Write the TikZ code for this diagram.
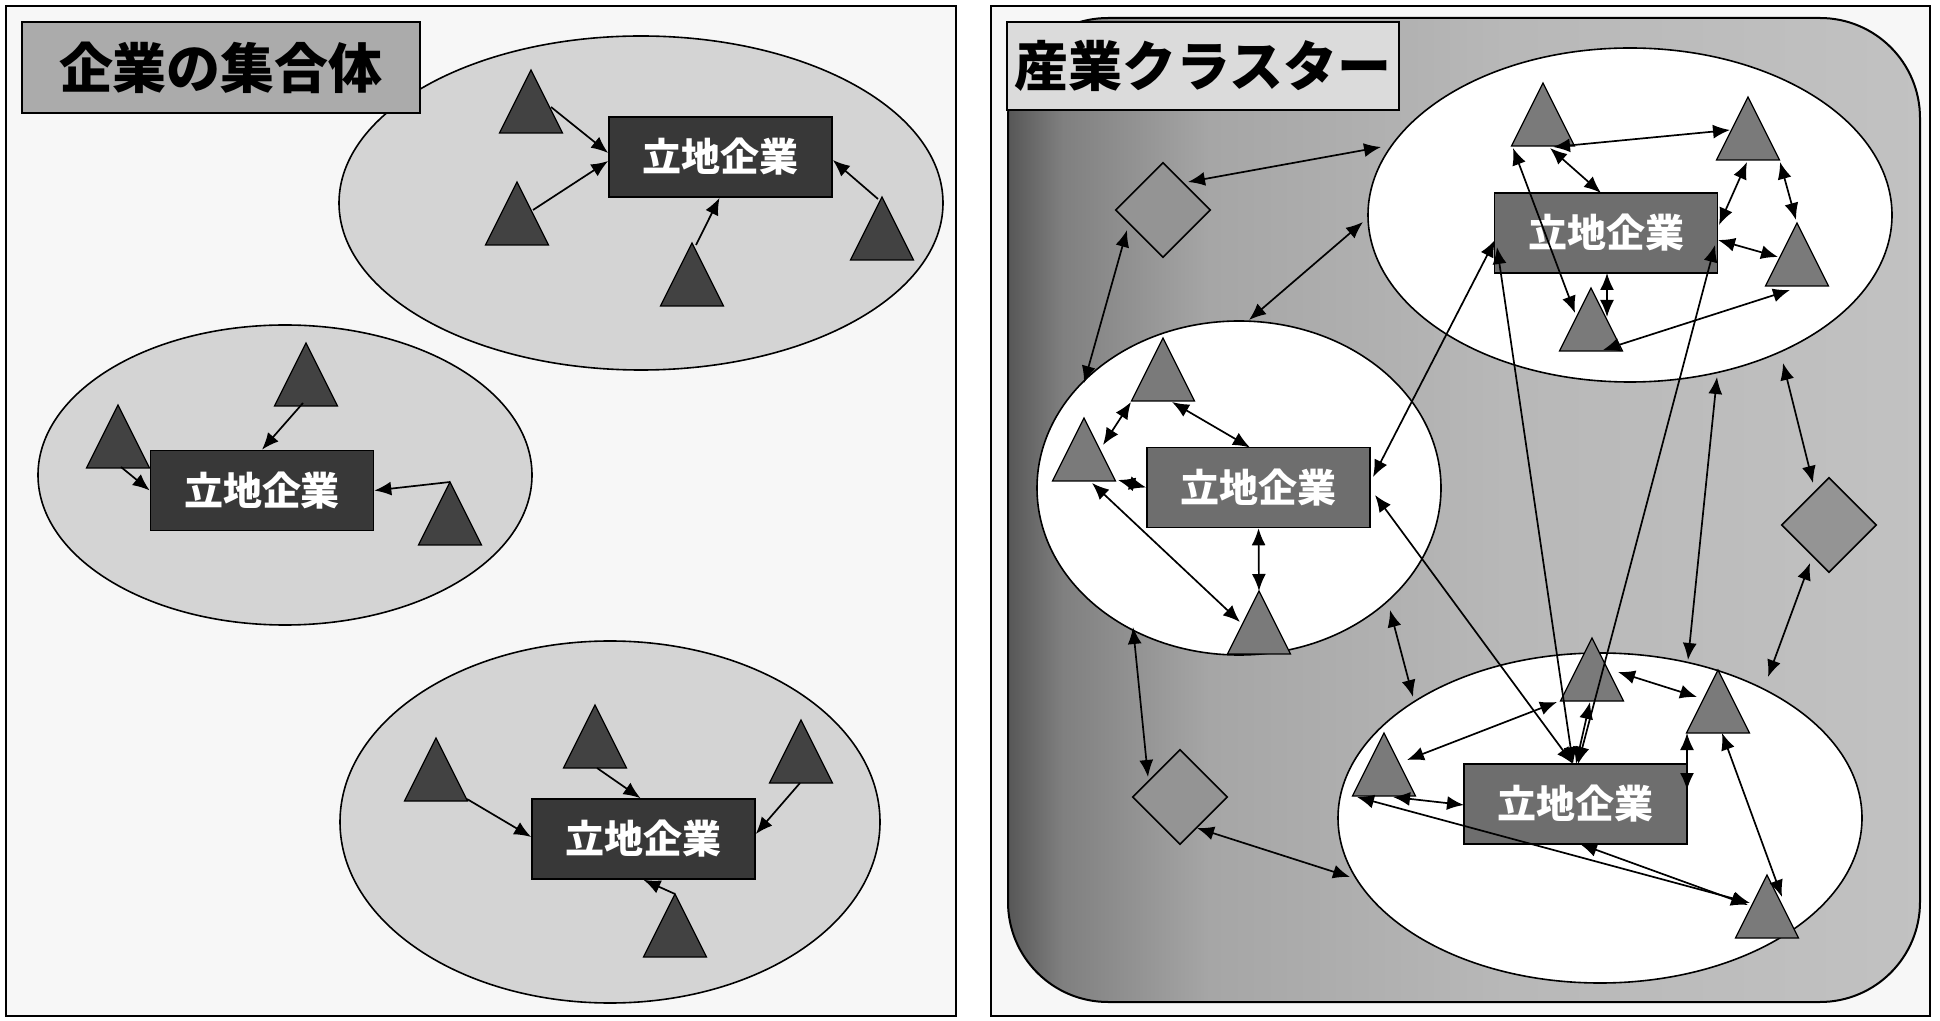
\documentclass[tikz,border=0pt]{standalone}
\usepackage{fontspec}
\newfontfamily\cjk{Noto Sans CJK JP}
\usetikzlibrary{shapes.geometric,arrows.meta}
\pgfdeclarehorizontalshading{clust}{100bp}{color(0bp)=(black!66); color(25bp)=(black!66); color(28bp)=(black!50); color(36bp)=(black!35); color(52bp)=(black!28); color(75bp)=(black!24); color(100bp)=(black!24)}
\begin{document}
\begin{tikzpicture}[x=0.5pt,y=-0.5pt,
  tri/.style={isosceles triangle, isosceles triangle stretches, shape border rotate=90,
    minimum width=31.5pt, minimum height=31.5pt, inner sep=0pt, outer sep=0pt,
    draw=black, line width=0.6pt, anchor=apex},
  ltri/.style={tri, fill=black!74},
  rtri/.style={tri, fill=black!52},
  boxbase/.style={rectangle, draw=black, line width=0.8pt, minimum width=111.5pt, minimum height=40pt,
    inner sep=0pt, text=white, font=\cjk\bfseries\fontsize{19.5pt}{22pt}\selectfont},
  lbox/.style={boxbase, fill=black!78},
  rbox/.style={boxbase, fill=black!57},
  dia/.style={diamond, minimum width=47.5pt, minimum height=47.5pt, inner sep=0pt,
    draw=black, line width=0.8pt, fill=black!42},
  lell/.style={ellipse, draw=black, line width=0.8pt, fill=black!17, inner sep=0pt},
  rell/.style={ellipse, draw=black, line width=0.8pt, fill=white, inner sep=0pt},
  titlebox/.style={rectangle, draw=black, line width=1.3pt, inner sep=0pt,
    font=\cjk\bfseries\fontsize{27pt}{30pt}\selectfont},
  arr/.style={line width=0.85pt, -{Latex[length=8.5pt,width=7pt]}},
  barr/.style={line width=0.85pt, {Latex[length=8.5pt,width=7pt]}-{Latex[length=8.5pt,width=7pt]}}]
\useasboundingbox (0,0) rectangle (1940,1021);
\fill[white] (0,0) rectangle (1940,1021);

% ---------------- left panel ----------------
\draw[line width=1pt, fill=black!3] (6,6) rectangle (956,1016);
\node[lell, minimum width=302pt, minimum height=167pt] (le1) at (641,203) {};
\node[lell, minimum width=247pt, minimum height=150pt] (le2) at (285,475) {};
\node[lell, minimum width=270pt, minimum height=181pt] (le3) at (610,822) {};
\node[titlebox, fill=black!33, minimum width=199pt, minimum height=45.5pt] (lt) at (221,67.5) {企業の集合体};

\node[lbox] (lb1) at (720.5,157) {立地企業};
\node[lbox] (lb2) at (262,490.5) {立地企業};
\node[lbox] (lb3) at (643.5,839) {立地企業};

\node[ltri] (t1) at (531,70) {};
\node[ltri] (t2) at (517,182) {};
\node[ltri] (t3) at (692,243) {};
\node[ltri] (t4) at (882,197) {};
\node[ltri] (t5) at (306,343) {};
\node[ltri] (t6) at (118,405) {};
\node[ltri] (t7) at (450,482) {};
\node[ltri] (t8) at (436,738) {};
\node[ltri] (t9) at (595,705) {};
\node[ltri] (t10) at (801,720) {};
\node[ltri] (t11) at (675,894) {};

\draw[arr] ([shift={(20,37)}]t1.apex) -- ([shift={(0,-4)}]lb1.west);
\draw[arr] ([shift={(16,28)}]t2.apex) -- ([shift={(0,4)}]lb1.west);
\draw[arr] ([shift={(4,2)}]t3.apex) -- ([shift={(-1,0)}]lb1.south);
\draw[arr] ([shift={(-4,2)}]t4.apex) -- ([shift={(0,3)}]lb1.east);
\draw[arr] ([shift={(-3,60)}]t5.apex) -- (lb2.north);
\draw[arr] ([shift={(3,62)}]t6.apex) -- (lb2.west);
\draw[arr] (t7.apex) -- (lb2.east);
\draw[arr] ([shift={(31,61)}]t8.apex) -- ([shift={(0,-2)}]lb3.west);
\draw[arr] ([shift={(2,63)}]t9.apex) -- ([shift={(-3,0)}]lb3.north);
\draw[arr] ([shift={(-1,63)}]t10.apex) -- ([shift={(0,-5)}]lb3.east);
\draw[arr] (t11.apex) -- (lb3.south);

% ---------------- right panel ----------------
\draw[line width=1pt, fill=black!3] (991,6) rectangle (1930,1016);
\shadedraw[shading=clust, line width=1pt, rounded corners=50pt] (1008,18) rectangle (1920,1002);
\node[rell, minimum width=262pt, minimum height=167pt] (e1) at (1630,215) {};
\node[rell, minimum width=202pt, minimum height=167pt] (e2) at (1239,488) {};
\node[rell, minimum width=262pt, minimum height=165pt] (e3) at (1600,818) {};
\node[titlebox, fill=black!14, minimum width=196pt, minimum height=44pt] (rt) at (1203,66) {産業クラスター};

\node[dia] (d1) at (1163,210) {};
\node[dia] (d2) at (1829,525) {};
\node[dia] (d3) at (1180,797) {};

\node[rbox] (rb1) at (1606,233) {立地企業};
\node[rbox] (rb2) at (1258.5,487.5) {立地企業};
\node[rbox] (rb3) at (1575.5,804) {立地企業};

\node[rtri] (rt1) at (1543,83) {};
\node[rtri] (rt2) at (1748,97) {};
\node[rtri] (rt3) at (1797,223) {};
\node[rtri] (rt4) at (1591,288) {};
\node[rtri] (rt5) at (1163,338) {};
\node[rtri] (rt6) at (1084,418) {};
\node[rtri] (rt8) at (1259,591) {};
\node[rtri] (rt9) at (1592,638) {};
\node[rtri] (rt10) at (1718,670) {};
\node[rtri] (rt11) at (1384,733) {};
\node[rtri] (rt12) at (1767,875) {};

\draw[barr] ([shift={(25,-28)}]d1.center) -- ([shift={(-249,-68)}]e1.center);
\draw[barr] ([shift={(-267,7)}]e1.center) -- ([shift={(10,-168)}]e2.center);
\draw[barr] ([shift={(-36,20)}]d1.center) -- ([shift={(-155,-105)}]e2.center);
\draw[barr] ([shift={(10,64)}]rt1.apex) -- ([shift={(-18,33)}]rt2.apex);
\draw[barr] ([shift={(7,65)}]rt1.apex) -- ([shift={(-5,-40)}]rb1.center);
\draw[barr] ([shift={(-1,65)}]rt2.apex) -- ([shift={(113,-8)}]rb1.center);
\draw[barr] ([shift={(32,65)}]rt2.apex) -- ([shift={(-1,-3)}]rt3.apex);
\draw[barr] ([shift={(112,7)}]rb1.center) -- ([shift={(-19,34)}]rt3.apex);
\draw[barr] ([shift={(1,40)}]rb1.center) -- ([shift={(16,29)}]rt4.apex);
\draw[barr] ([shift={(12,62)}]rt4.apex) -- ([shift={(-7,67)}]rt3.apex);
\draw[barr] ([shift={(-30,65)}]rt1.apex) -- ([shift={(-16,25)}]rt4.apex);
\draw[barr] ([shift={(-111,7)}]rb1.center) -- ([shift={(114.5,-10.5)}]rb2.center);
\draw[barr] ([shift={(-109,14)}]rb1.center) -- ([shift={(-2.5,-40)}]rb3.center);
\draw[barr] ([shift={(116.5,7.5)}]rb2.center) -- ([shift={(-2.5,-40)}]rb3.center);
\draw[barr] ([shift={(109,12)}]rb1.center) -- ([shift={(2.5,-40)}]rb3.center);
\draw[barr] ([shift={(87,162)}]e1.center) -- ([shift={(88,-158)}]e3.center);
\draw[barr] ([shift={(153,148)}]e1.center) -- ([shift={(-16,-42)}]d2.center);
\draw[barr] ([shift={(-19,38)}]d2.center) -- ([shift={(168,-141)}]e3.center);
\draw[barr] ([shift={(151,122)}]e2.center) -- ([shift={(-187,-121)}]e3.center);
\draw[barr] ([shift={(-106,139)}]e2.center) -- ([shift={(-32,-20)}]d3.center);
\draw[barr] ([shift={(17,31)}]d3.center) -- ([shift={(-250,59)}]e3.center);
\draw[barr] (rb2.south) -- (rt8.apex);
\draw[barr] ([shift={(8,65)}]rt6.apex) -- ([shift={(-19,31)}]rt8.apex);
\draw[barr] ([shift={(9,64)}]rt5.apex) -- ([shift={(-8.5,-40)}]rb2.center);
\draw[barr] ([shift={(-32,64)}]rt5.apex) -- ([shift={(19,27)}]rt6.apex);
\draw[barr] ([shift={(34,62)}]rt6.apex) -- (rb2.west);
\draw[barr] ([shift={(-2,64)}]rt9.apex) -- ([shift={(0.5,-40)}]rb3.center);
\draw[barr] ([shift={(23,27)}]rt11.apex) -- ([shift={(-35,64)}]rt9.apex);
\draw[barr] ([shift={(26,34)}]rt9.apex) -- ([shift={(-21,27)}]rt10.apex);
\draw[barr] ([shift={(-31,63)}]rt10.apex) -- ([shift={(111.5,-14)}]rb3.center);
\draw[barr] ([shift={(4,63)}]rt10.apex) -- ([shift={(15,22)}]rt12.apex);
\draw[barr] ([shift={(9,64)}]rt11.apex) -- ([shift={(-111.5,1)}]rb3.center);
\draw[barr] ([shift={(-27,64)}]rt11.apex) -- ([shift={(-17,28)}]rt12.apex);
\draw[barr] ([shift={(4.5,40)}]rb3.center) -- ([shift={(-19,30)}]rt12.apex);
\end{tikzpicture}
\end{document}
